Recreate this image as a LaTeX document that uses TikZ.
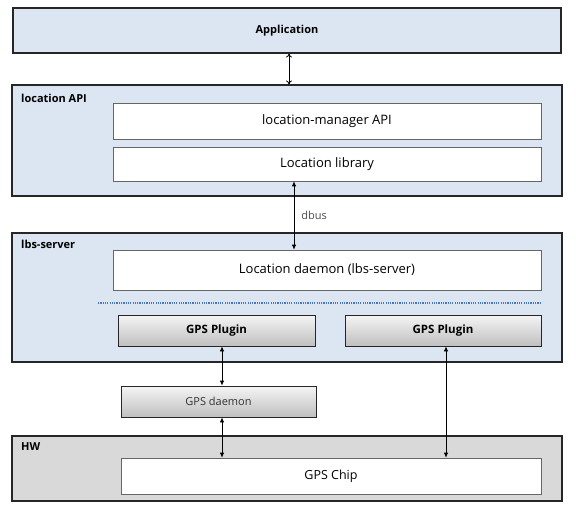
\documentclass[tikz,border=0pt]{standalone}
\usepackage{fontspec}
\setmainfont{Open Sans}
\usetikzlibrary{arrows.meta,shadows}
\definecolor{layerblue}{RGB}{220,230,242}
\definecolor{layergray}{RGB}{217,217,217}
\definecolor{dotblue}{RGB}{70,120,190}
\begin{document}
\begin{tikzpicture}[x=10pt,y=10pt,
  layer/.style={draw=black!85,line width=1.1pt,fill=layerblue,
    drop shadow={shadow xshift=1pt,shadow yshift=-1pt,opacity=0.3}},
  block/.style={draw=black!60,line width=0.6pt,fill=white,font=\fontsize{13}{15}\selectfont,
    drop shadow={shadow xshift=0.8pt,shadow yshift=-0.8pt,opacity=0.25}},
  plug/.style={draw=black!85,line width=0.8pt,top color=black!4,bottom color=black!25,
    drop shadow={shadow xshift=1pt,shadow yshift=-1pt,opacity=0.3}},
  title/.style={anchor=west,font=\bfseries\fontsize{11}{13}\selectfont},
  link/.style={draw=black,line width=0.8pt,{Latex[length=5pt,width=4.5pt]}-{Latex[length=5pt,width=4.5pt]}}]
\tikzstyle{every node}+=[inner sep=0pt,minimum height=0pt]
\useasboundingbox (0,0) rectangle (57.6,-51.2);
% application layer
\node [layer,minimum width=548pt,minimum height=45pt,font=\bfseries\fontsize{11}{13}\selectfont] (app) at (28.7,-3.05) {Application};
% location API
\node [layer,minimum width=550pt,minimum height=111pt] (locapi) at (28.7,-14.05) {};
\node [title] (locapilbl) at (2.1,-9.8) {location API};
\node [block,minimum width=428pt,minimum height=36pt] (mgr) at (32.7,-12.1) {location-manager API};
\node [block,minimum width=428pt,minimum height=34pt] (lib) at (32.7,-16.4) {Location library};
% lbs-server
\node [layer,minimum width=550pt,minimum height=129pt] (lbs) at (28.7,-29.75) {};
\node [title] (lbslbl) at (2.1,-24.4) {lbs-server};
\node [block,minimum width=428pt,minimum height=40pt] (daemon) at (32.7,-27.0) {Location daemon (lbs-server)};
\coordinate (dotl) at (9.8,-30.3);
\coordinate (dotr) at (54.1,-30.3);
\draw [dotblue,line width=1.2pt,dash pattern=on 1.2pt off 1.1pt] (dotl) -- (dotr);
\node [plug,minimum width=197pt,minimum height=31pt,font=\bfseries\fontsize{11.5}{13}\selectfont] (plugA) at (21.65,-33.05) {GPS Plugin};
\node [plug,minimum width=196pt,minimum height=31pt,font=\bfseries\fontsize{11.5}{13}\selectfont] (plugB) at (44.3,-33.05) {GPS Plugin};
% gps daemon
\node [plug,minimum width=195pt,minimum height=31pt,font=\fontsize{11}{13}\selectfont,text=black!80] (gpsd) at (21.85,-40.15) {GPS daemon};
% hardware
\node [layer,fill=layergray,minimum width=550pt,minimum height=65pt] (hw) at (28.7,-46.85) {};
\node [title] (hwlbl) at (2.1,-44.7) {HW};
\node [block,minimum width=420pt,minimum height=36pt,font=\fontsize{12.5}{15}\selectfont] (chip) at (33.1,-47.6) {GPS Chip};
% connectors
\coordinate (appx) at (28.9,0);
\coordinate (dbusx) at (29.4,0);
\coordinate (leftx) at (22.2,0);
\coordinate (rightx) at (44.6,0);
\draw [line width=0.8pt,{To[length=4pt,width=6pt]}-{To[length=4pt,width=6pt]}] (app.south -| appx) -- (locapi.north -| appx);
\draw [link] (lib.south -| dbusx) -- node [right=7pt,font=\fontsize{11}{13}\selectfont,text=black!70] (dbuslbl) {dbus} (daemon.north -| dbusx);
\draw [link] (plugA.south -| leftx) -- (gpsd.north -| leftx);
\draw [link] (gpsd.south -| leftx) -- (chip.north -| leftx);
\draw [link] (plugB.south -| rightx) -- (chip.north -| rightx);
\end{tikzpicture}
\end{document}
